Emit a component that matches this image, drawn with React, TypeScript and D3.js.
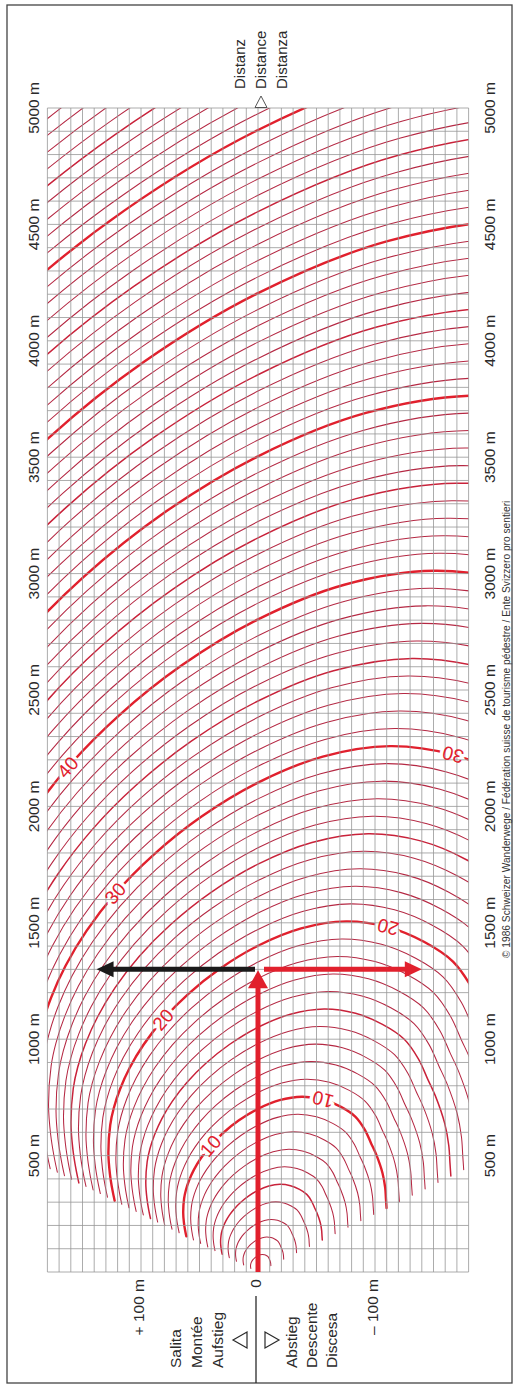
import React from "react";
import * as d3 from "d3";

// Pace (minutes per km of horizontal distance) vs. slope in %
const slopePct = [-40, -35, -30, -25, -20, -17.5, -15, -12.5, -10, -7.5, -5, -2.5, 0, 2.5, 5, 7.5, 10, 12.5, 15, 17.5, 20, 25, 30, 35, 40];
const paceMinPerKm = [36.4, 32.0, 27.6, 23.5, 19.8, 18.1, 16.4, 15.0, 14.1, 13.5, 13.28, 13.55, 14.27, 15.35, 16.75, 18.45, 20.47, 22.8, 25.45, 28.4, 31.67, 39.1, 47.4, 56.2, 65.3];

// Isochrones (walking time in minutes)
const isochroneMinutes = d3.range(1, 81);
const labelledLeft = [10, 20, 30, 40];
const labelledRight = [10, 20, 30];

// Axes
const distanceTicks = [500, 1000, 1500, 2000, 2500, 3000, 3500, 4000, 4500, 5000];
const elevationTicks = [100, 0, -100];
const elevationTickLabels = ["+ 100 m", "0", "\u2013 100 m"];

// Worked example shown by arrows
const exampleDistance = 1300;
const exampleAscent = 138;
const exampleDescent = -140;

const ascentLabels = ["Salita", "Montée", "Aufstieg"];
const descentLabels = ["Abstieg", "Descente", "Discesa"];
const distanceLabels = ["Distanz", "Distance", "Distanza"];
const copyright = "© 1986 Schweizer Wanderwege / Fédération suisse de tourisme pédestre / Ente Svizzero pro sentieri";

const W = 529;
const H = 1389;
const FONT = "'Liberation Sans', Arial, Helvetica, sans-serif";
const RED = "#e1202d";

export default function App() {
  const x = d3.scaleLinear().domain([180, -180]).range([47.4, 468.6]);
  const y = d3.scaleLinear().domain([0, 5000]).range([1272, 108]);

  const hGrid = d3.range(0, 5001, 100);
  const vGrid = d3.range(-180, 181, 10);

  const iLeft = slopePct.indexOf(7.5);
  const iRight = slopePct.indexOf(-7.5);

  const pts = (T: number): [number, number][] =>
    slopePct.map((s, i) => {
      const d = (1000 * T) / paceMinPerKm[i];
      return [x((s / 100) * d), y(d)] as [number, number];
    });

  const line = d3.line().curve(d3.curveCatmullRom.alpha(0.5));

  const styleFor = (T: number) => {
    if (T % 10 === 0) return { stroke: RED, width: 2.4 };
    if (T % 5 === 0) return { stroke: "#c9223a", width: 1.5 };
    return { stroke: "#b52843", width: 1.05 };
  };

  const labelLeft = (T: number) => {
    const p = pts(T);
    const c = p[iLeft];
    const a = p[iLeft - 1];
    const b = p[iLeft + 1];
    const ang = (Math.atan2(a[1] - b[1], a[0] - b[0]) * 180) / Math.PI;
    return { c, ang };
  };
  const labelRight = (T: number) => {
    const p = pts(T);
    const c = p[iRight];
    const a = p[iRight - 1];
    const b = p[iRight + 1];
    const ang = (Math.atan2(a[1] - b[1], a[0] - b[0]) * 180) / Math.PI + 180;
    return { c, ang };
  };

  const labels: { T: number; c: [number, number]; ang: number }[] = [
    ...labelledLeft.map((T) => ({ T, ...labelLeft(T) })),
    ...labelledRight.map((T) => ({ T, ...labelRight(T) })),
  ];

  const x0 = x(0);
  const yEx = y(exampleDistance);

  return (
    <svg
      width={W}
      height={H}
      viewBox={`0 0 ${W} ${H}`}
      style={{ position: "absolute", left: 0, top: 0, display: "block", background: "#fff" }}
      fontFamily={FONT}
    >
      <defs>
        <clipPath id="plot">
          <rect x={x(180)} y={y(5000)} width={x(-180) - x(180)} height={y(0) - y(5000)} />
        </clipPath>
      </defs>

      {/* frame */}
      <rect x={7} y={5} width={505} height={1378} fill="#fff" stroke="#444" strokeWidth={1.3} />

      {/* isochrones */}
      <g clipPath="url(#plot)" fill="none" strokeLinecap="round">
        {isochroneMinutes.map((T) => {
          const st = styleFor(T);
          return <path key={T} d={line(pts(T)) || ""} stroke={st.stroke} strokeWidth={st.width} />;
        })}
      </g>

      {/* label halos break the curves */}
      <g fontSize={19} textAnchor="middle">
        {labels.map((l, i) => (
          <text
            key={"h" + i}
            transform={`translate(${l.c[0]},${l.c[1]}) rotate(${l.ang})`}
            dy="0.35em"
            fill="#fff"
            stroke="#fff"
            strokeWidth={7}
            strokeLinejoin="round"
          >
            {l.T}
          </text>
        ))}
      </g>

      {/* grid */}
      <g stroke="#979797" strokeWidth={0.8}>
        {hGrid.map((d) => (
          <line key={"h" + d} x1={x(180)} x2={x(-180)} y1={y(d)} y2={y(d)} />
        ))}
        {vGrid.map((h) => (
          <line key={"v" + h} x1={x(h)} x2={x(h)} y1={y(0)} y2={y(5000)} />
        ))}
      </g>

      {/* curve labels */}
      <g fontSize={19} textAnchor="middle" fill={RED}>
        {labels.map((l, i) => (
          <text key={"t" + i} transform={`translate(${l.c[0]},${l.c[1]}) rotate(${l.ang})`} dy="0.35em">
            {l.T}
          </text>
        ))}
      </g>

      {/* zero line with arrow */}
      <line x1={x0} x2={x0} y1={y(0)} y2={yEx + 16} stroke={RED} strokeWidth={5} />
      <path d={`M${x0},${yEx + 1} L${x0 - 10},${yEx + 19} L${x0 + 10},${yEx + 19} Z`} fill={RED} />

      {/* horizontal example arrows */}
      <line x1={x0 - 3} x2={x(exampleAscent) + 14} y1={yEx} y2={yEx} stroke="#1a1a1a" strokeWidth={5} />
      <path
        d={`M${x(exampleAscent)},${yEx} L${x(exampleAscent) + 17},${yEx - 8} L${x(exampleAscent) + 17},${yEx + 8} Z`}
        fill="#1a1a1a"
      />
      <line x1={x0 + 6} x2={x(exampleDescent) - 14} y1={yEx} y2={yEx} stroke={RED} strokeWidth={5} />
      <path
        d={`M${x(exampleDescent)},${yEx} L${x(exampleDescent) - 17},${yEx - 8} L${x(exampleDescent) - 17},${yEx + 8} Z`}
        fill={RED}
      />

      {/* distance tick labels */}
      <g fontSize={15.5} fill="#2a2a2a" textAnchor="middle">
        {distanceTicks.map((d) => (
          <text key={"l" + d} transform={`translate(34,${y(d)}) rotate(-90)`} dy="0.35em">
            {`${d} m`}
          </text>
        ))}
        {distanceTicks.map((d) => (
          <text key={"r" + d} transform={`translate(490,${y(d)}) rotate(-90)`} dy="0.35em">
            {`${d} m`}
          </text>
        ))}
      </g>

      {/* elevation tick labels */}
      <g fontSize={15.5} fill="#2a2a2a" textAnchor="end">
        {elevationTicks.map((h, i) => (
          <text key={"e" + h} transform={`translate(${x(h) - 2},1279) rotate(-90)`} dy="0.35em">
            {elevationTickLabels[i]}
          </text>
        ))}
      </g>

      {/* ascent / descent legend */}
      <g fontSize={15.5} fill="#2a2a2a" textAnchor="start">
        {ascentLabels.map((t, i) => (
          <text key={t} transform={`translate(${176 + i * 21},1368) rotate(-90)`} dy="0.35em">
            {t}
          </text>
        ))}
        {descentLabels.map((t, i) => (
          <text key={t} transform={`translate(${292 + i * 20},1368) rotate(-90)`} dy="0.35em">
            {t}
          </text>
        ))}
      </g>
      <path d="M233,1340 L247,1332 L247,1348 Z" fill="none" stroke="#2a2a2a" strokeWidth={1.2} />
      <path d="M279,1340 L265,1332 L265,1348 Z" fill="none" stroke="#2a2a2a" strokeWidth={1.2} />
      <line x1={x0 - 2} x2={x0 - 2} y1={1296} y2={1383} stroke="#2a2a2a" strokeWidth={1.3} />

      {/* distance title */}
      <g fontSize={15} fill="#2a2a2a" textAnchor="start">
        {distanceLabels.map((t, i) => (
          <text key={t} transform={`translate(${240 + i * 21},89) rotate(-90)`} dy="0.35em">
            {t}
          </text>
        ))}
      </g>
      <path d={`M${x0 + 3},96 L${x0 - 3},107.5 L${x0 + 9},107.5 Z`} fill="#fff" stroke="#555" strokeWidth={1} />

      {/* copyright */}
      <text transform="translate(506,958) rotate(-90)" dy="0.35em" fontSize={10.2} fill="#333" textAnchor="start">
        {copyright}
      </text>
    </svg>
  );
}
